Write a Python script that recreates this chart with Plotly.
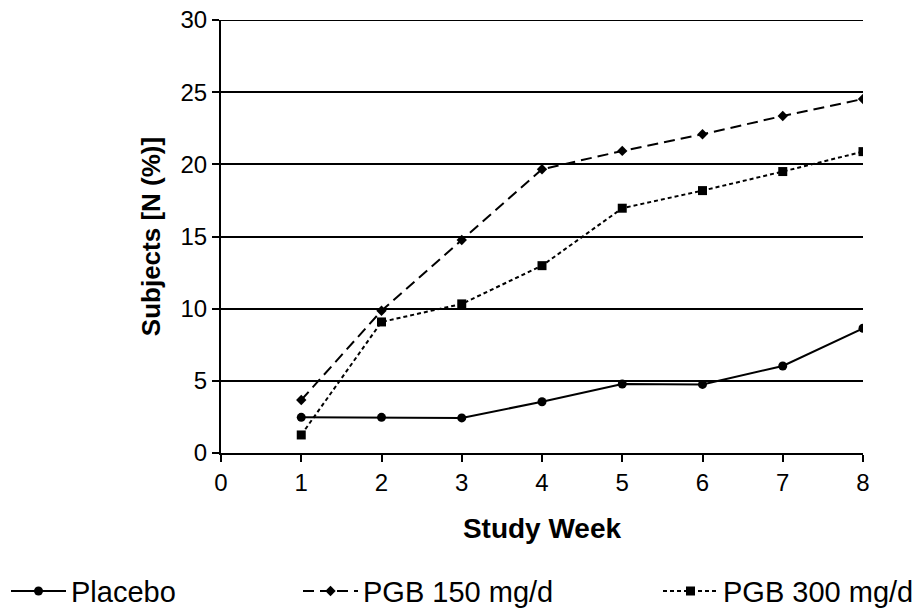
import plotly.graph_objects as go

weeks = [1, 2, 3, 4, 5, 6, 7, 8]
placebo = [2.47, 2.47, 2.43, 3.55, 4.78, 4.75, 6.03, 8.64]
pgb150 = [3.67, 9.86, 14.76, 19.66, 20.93, 22.08, 23.35, 24.53]
pgb300 = [1.25, 9.08, 10.33, 12.98, 16.96, 18.18, 19.5, 20.88]
series_names = ["Placebo", "PGB 150 mg/d", "PGB 300 mg/d"]
x_ticks = [0, 1, 2, 3, 4, 5, 6, 7, 8]
y_ticks = [0, 5, 10, 15, 20, 25, 30]

FONT = "Liberation Sans, Arial, sans-serif"

fig = go.Figure()
fig.add_trace(go.Scatter(x=weeks, y=placebo, name=series_names[0], mode="lines+markers",
                         legend="legend",
                         line=dict(color="black", width=2, dash="solid"),
                         marker=dict(symbol="circle", size=9, color="black")))
fig.add_trace(go.Scatter(x=weeks, y=pgb150, name=series_names[1], mode="lines+markers",
                         legend="legend2",
                         line=dict(color="black", width=2, dash="11px,6px"),
                         marker=dict(symbol="diamond", size=8, color="black")))
fig.add_trace(go.Scatter(x=weeks, y=pgb300, name=series_names[2], mode="lines+markers",
                         legend="legend3",
                         line=dict(color="black", width=2, dash="4px,3px"),
                         marker=dict(symbol="square", size=9, color="black")))

leg_common = dict(yanchor="middle", y=-0.319, xanchor="left",
                  font=dict(size=29, family=FONT, color="black"),
                  itemwidth=55, bgcolor="rgba(0,0,0,0)", borderwidth=0)

# top gridline at y = 30 (plotly hides grid lines at the range edge)
fig.add_shape(type="line", xref="paper", yref="y", x0=0, x1=1, y0=y_ticks[-1], y1=y_ticks[-1],
              line=dict(color="black", width=2), layer="below")

fig.update_layout(
    width=920, height=611,
    margin=dict(l=221, r=57, t=20, b=158, autoexpand=False),
    paper_bgcolor="white", plot_bgcolor="white",
    font=dict(family=FONT, color="black", size=24),
    showlegend=True,
    legend=dict(x=(6 - 221) / 642, **leg_common),
    legend2=dict(x=(298 - 221) / 642, **leg_common),
    legend3=dict(x=(658 - 221) / 642, **leg_common),
    xaxis=dict(range=[0, 8], tickvals=x_ticks, ticks="outside", ticklen=7, tickwidth=2,
               tickcolor="black", showline=True, linecolor="black", linewidth=2,
               showgrid=False, zeroline=False,
               tickfont=dict(size=24, family=FONT),
               title=dict(text="<b>Study Week</b>", font=dict(size=28, family=FONT), standoff=24)),
    yaxis=dict(range=[0, 30], tickvals=y_ticks, ticks="outside", ticklen=7, tickwidth=2,
               tickcolor="black", showline=True, linecolor="black", linewidth=2,
               showgrid=True, gridcolor="black", gridwidth=2, zeroline=False,
               tickfont=dict(size=24, family=FONT),
               title=dict(text="<b>Subjects [N (%)]</b>", font=dict(size=26, family=FONT), standoff=12)),
)

fig.write_html("out.html")
